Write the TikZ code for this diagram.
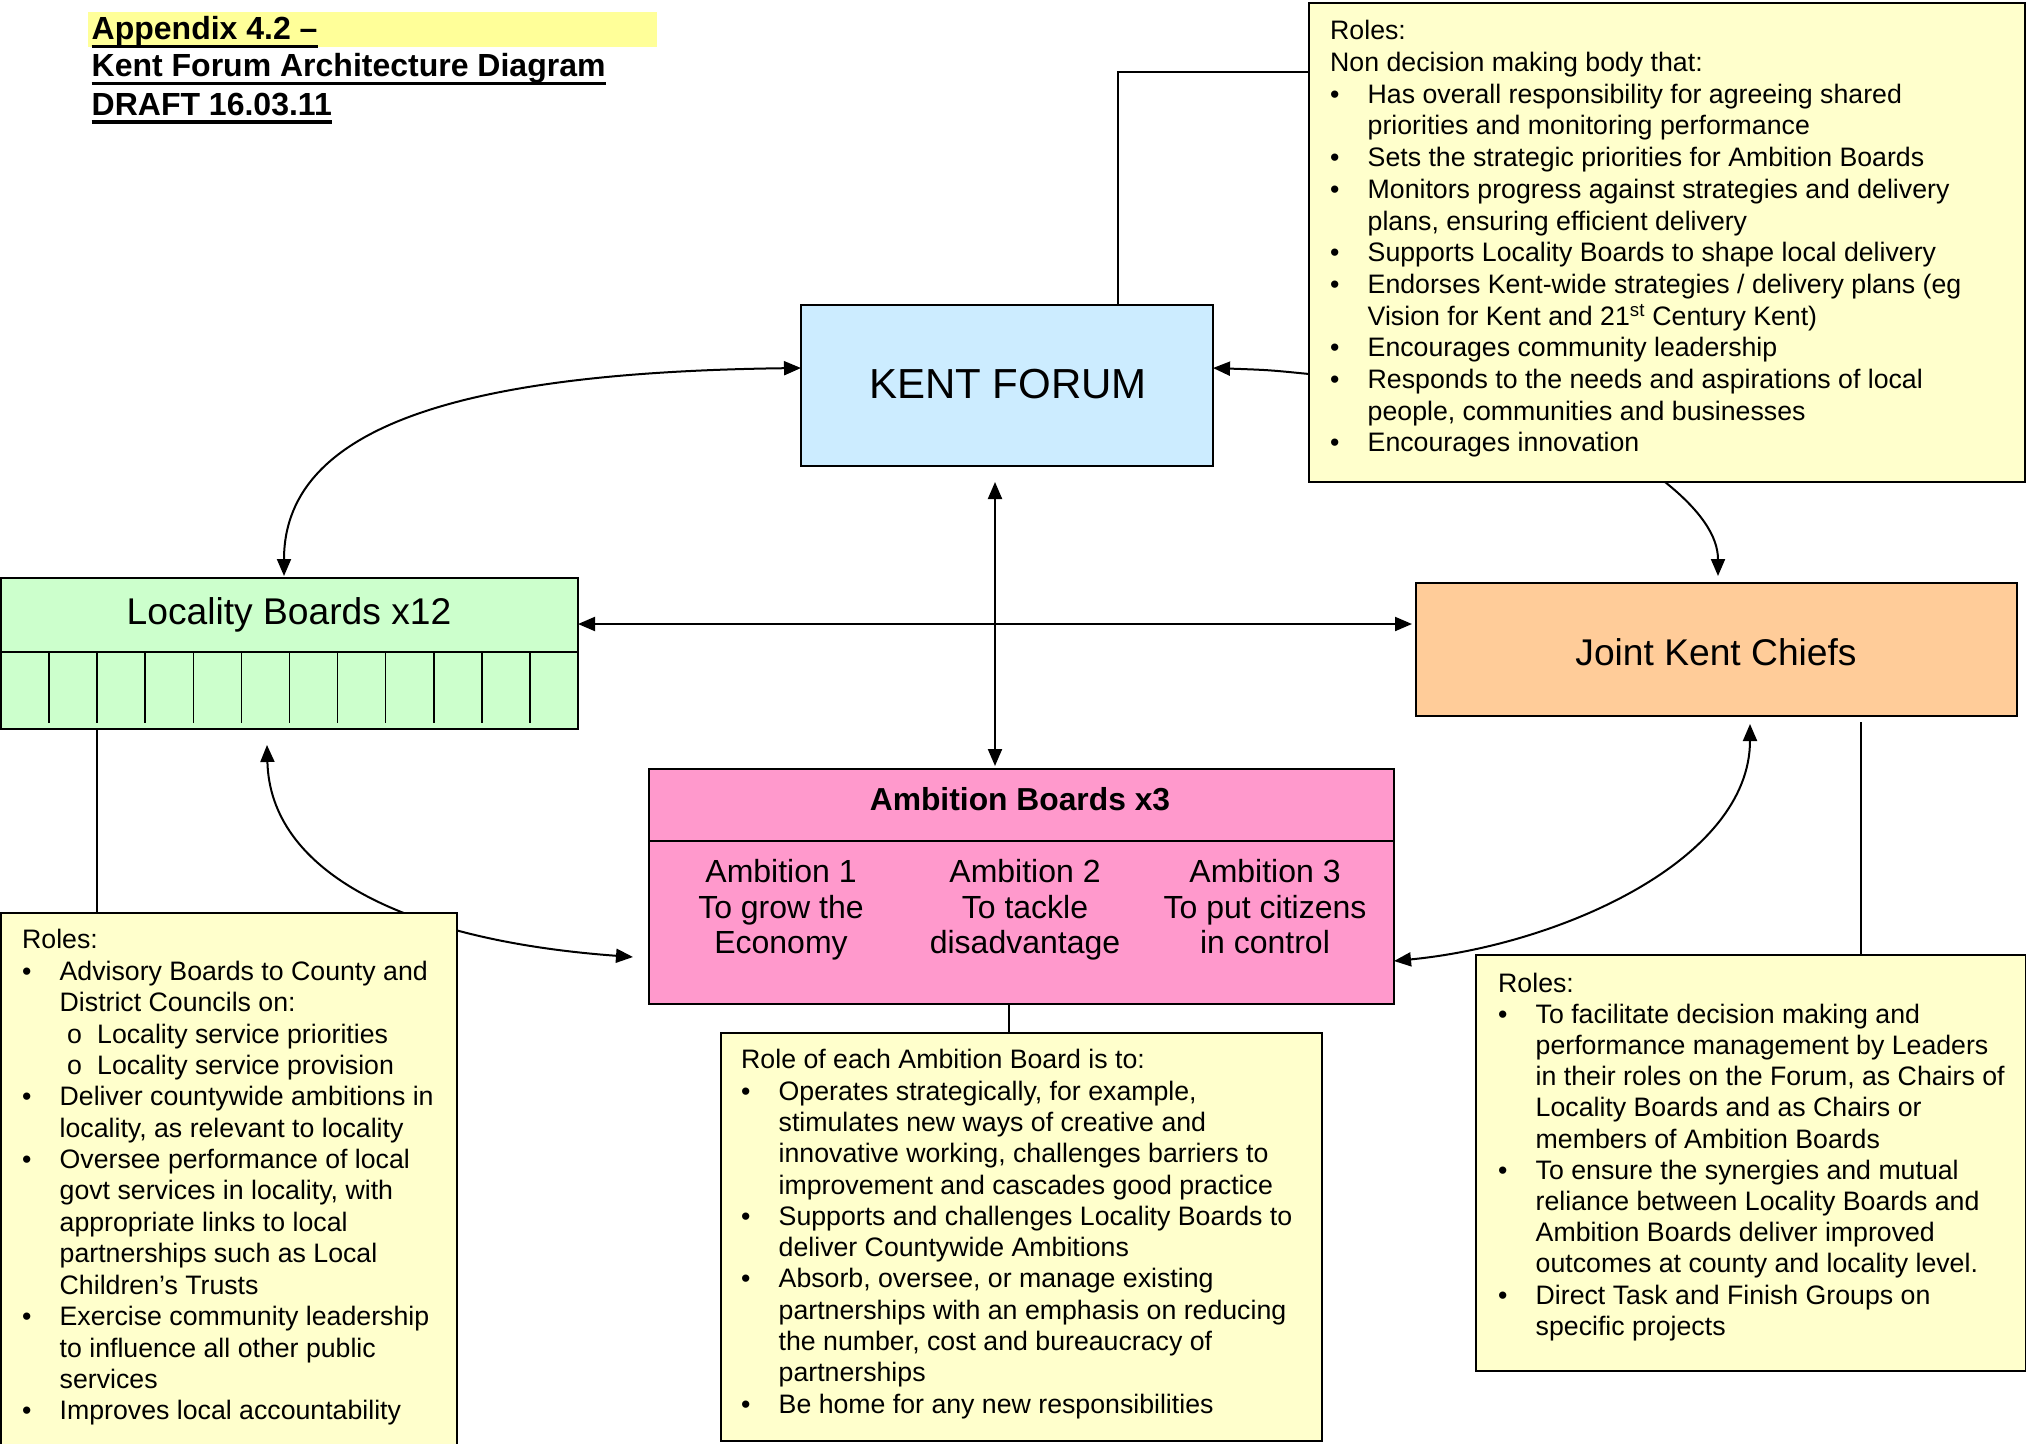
\documentclass[tikz,border=0pt]{standalone}
\usepackage{fontspec}
\setmainfont{Liberation Sans}
\usetikzlibrary{arrows.meta,calc}
\pgfdeclarelayer{bg}
\pgfsetlayers{bg,main}
\definecolor{kfblue}{HTML}{CCECFF}
\definecolor{locgreen}{HTML}{CCFFCC}
\definecolor{jkcorange}{HTML}{FFCC99}
\definecolor{ambpink}{HTML}{FF99CC}
\definecolor{roley}{HTML}{FFFFCC}
\definecolor{titlehl}{HTML}{FFFF99}
\newsavebox\myulbox
\newcommand\myul[1]{\sbox\myulbox{#1}\rlap{\rule[-8.5pt]{\wd\myulbox}{3.4pt}}\usebox\myulbox}
\newcommand\mybul{\makebox[37.5pt][l]{\textbullet}}
\newcommand\mycont{\hspace*{37.5pt}}
\newcommand\mysub{\hspace*{45pt}\makebox[30pt][l]{o}}
\begin{document}
\begin{tikzpicture}[x=1pt,y=-1pt,
 box/.style={draw=black, line width=2.2pt, rectangle, inner sep=0pt, outer sep=0pt},
 txt/.style={anchor=north west, inner sep=0pt, align=left},
 con/.style={line width=2pt},
 arr/.style={con, -{Triangle[length=17pt,width=14pt]}},
 darr/.style={con, {Triangle[length=17pt,width=14pt]}-{Triangle[length=17pt,width=14pt]}}]
\useasboundingbox (0,0) rectangle (2026,1443);

% title
\fill[titlehl] (88,12) rectangle (657,47);
\node[anchor=base west, inner sep=0pt, font=\fontsize{32}{38}\bfseries\selectfont] (t1) at (91.5,39.5) {\myul{Appendix 4.2 –}};
\node[anchor=base west, inner sep=0pt, font=\fontsize{32}{38}\bfseries\selectfont] (t2) at (91.5,76.5) {\myul{Kent Forum Architecture Diagram}};
\node[anchor=base west, inner sep=0pt, font=\fontsize{32}{38}\bfseries\selectfont] (t3) at (91.5,115) {\myul{DRAFT 16.03.11}};

% boxes
\node[box, fill=kfblue, minimum width=412pt, minimum height=161pt] (kf) at (1007,385.5) {};
\node[font=\fontsize{42}{50}\selectfont] (kft) at (1008,384) {KENT FORUM};

\node[box, fill=locgreen, minimum width=577pt, minimum height=151pt] (loc) at (289.5,653.5) {};
\node[font=\fontsize{37.2}{44}\selectfont] (loct) at (289,615) {Locality Boards x12};
\draw[line width=2pt] ($(loc.north west)+(0,74)$) -- ($(loc.north east)+(0,74)$);
\foreach \i in {1,...,11} \draw[line width=1.6pt] ($(loc.north west)+(\i*48.08,74)$) -- ++(0,71);

\node[box, fill=jkcorange, minimum width=601pt, minimum height=133pt] (jkc) at (1716.5,649.5) {};
\node[font=\fontsize{37.2}{44}\selectfont] (jkct) at (1716,652) {Joint Kent Chiefs};

\node[box, fill=ambpink, minimum width=745pt, minimum height=235pt] (amb) at (1021.5,886.5) {};
\draw[line width=2pt] ($(amb.north west)+(0,72)$) -- ($(amb.north east)+(0,72)$);
\node[font=\fontsize{31.8}{36}\bfseries\selectfont] (abt) at (1020,799.5) {Ambition Boards x3};
\node[font=\fontsize{32}{35.5}\selectfont, align=center] (a1) at (781,911) {\strut Ambition 1\\To grow the\\Economy\strut};
\node[font=\fontsize{32}{35.5}\selectfont, align=center] (a2) at (1025,911) {\strut Ambition 2\\To tackle\\disadvantage\strut};
\node[font=\fontsize{32}{35.5}\selectfont, align=center] (a3) at (1265,911) {\strut Ambition 3\\To put citizens\\in control\strut};

% role boxes
\node[box, fill=roley, minimum width=716pt, minimum height=479pt] (rtr) at (1667,242.5) {};
\node[txt, font=\fontsize{26.7}{31.7}\selectfont] (rtrt) at ($(rtr.north west)+(21,14.5)$) {\strut Roles:\\
Non decision making body that:\\
\mybul Has overall responsibility for agreeing shared\\
\mycont priorities and monitoring performance\\
\mybul Sets the strategic priorities for Ambition Boards\\
\mybul Monitors progress against strategies and delivery\\
\mycont plans, ensuring efficient delivery\\
\mybul Supports Locality Boards to shape local delivery\\
\mybul Endorses Kent-wide strategies / delivery plans (eg\\
\mycont Vision for Kent and 21\textsuperscript{st} Century Kent)\\
\mybul Encourages community leadership\\
\mybul Responds to the needs and aspirations of local\\
\mycont people, communities and businesses\\
\mybul Encourages innovation};

\node[box, fill=roley, minimum width=456.5pt, minimum height=534pt] (lro) at (228.75,1180) {};
\node[txt, font=\fontsize{26.7}{31.4}\selectfont] (lrot) at ($(lro.north west)+(21.5,13.6)$) {\strut Roles:\\
\mybul Advisory Boards to County and\\
\mycont District Councils on:\\
\mysub Locality service priorities\\
\mysub Locality service provision\\
\mybul Deliver countywide ambitions in\\
\mycont locality, as relevant to locality\\
\mybul Oversee performance of local\\
\mycont govt services in locality, with\\
\mycont appropriate links to local\\
\mycont partnerships such as Local\\
\mycont Children’s Trusts\\
\mybul Exercise community leadership\\
\mycont to influence all other public\\
\mycont services\\
\mybul Improves local accountability};

\node[box, fill=roley, minimum width=601pt, minimum height=408pt] (mro) at (1021.5,1237) {};
\node[txt, font=\fontsize{26.7}{31.3}\selectfont] (mrot) at ($(mro.north west)+(20,13.7)$) {\strut Role of each Ambition Board is to:\\
\mybul Operates strategically, for example,\\
\mycont stimulates new ways of creative and\\
\mycont innovative working, challenges barriers to\\
\mycont improvement and cascades good practice\\
\mybul Supports and challenges Locality Boards to\\
\mycont deliver Countywide Ambitions\\
\mybul Absorb, oversee, or manage existing\\
\mycont partnerships with an emphasis on reducing\\
\mycont the number, cost and bureaucracy of\\
\mycont partnerships\\
\mybul Be home for any new responsibilities};

\node[box, fill=roley, minimum width=550pt, minimum height=416pt] (rro) at (1751,1163) {};
\node[txt, font=\fontsize{26.7}{31.2}\selectfont] (rrot) at ($(rro.north west)+(22,15)$) {\strut Roles:\\
\mybul To facilitate decision making and\\
\mycont performance management by Leaders\\
\mycont in their roles on the Forum, as Chairs of\\
\mycont Locality Boards and as Chairs or\\
\mycont members of Ambition Boards\\
\mybul To ensure the synergies and mutual\\
\mycont reliance between Locality Boards and\\
\mycont Ambition Boards deliver improved\\
\mycont outcomes at county and locality level.\\
\mybul Direct Task and Finish Groups on\\
\mycont specific projects};

% connectors
\begin{pgfonlayer}{bg}
\draw[darr] ($(kf.north west)+(0,63)$) .. controls +(-321,4) and +(0,-156) .. ($(loc.north west)+(283,-2)$);
\draw[darr] ($(loc.south west)+(266,16)$) .. controls +(3,125) and +(-233,-17) .. ($(amb.north west)+(-16,188)$);
\draw[darr] ($(amb.north east)+(0,192)$) .. controls +(166,-16) and +(0,136) .. ($(jkc.south west)+(334,8)$);
\draw[darr] ($(kf.south west)+(194,16)$) -- ($(amb.north west)+(346,-3)$);
\draw[darr] ($(loc.north east)+(0,46)$) -- ($(jkc.north west)+(-4,41)$);
\draw[con] ($(kf.north west)+(317,0)$) |- ($(rtr.north west)+(0,69)$);
\draw[arr] ($(rtr.north west)+(0,371)$) .. controls +(-40,-4) .. ($(kf.north east)+(0,63)$);
\draw[arr] ($(rtr.south west)+(356,0)$) .. controls +(35,28) and +(0,-40) .. ($(jkc.north west)+(302,-7)$);
\draw[con] ($(amb.south west)+(360,0)$) -- ($(mro.north west)+(288,0)$);
\draw[con] ($(loc.south west)+(96,0)$) -- ($(lro.north west)+(96.5,0)$);
\draw[con] ($(jkc.south west)+(445,6)$) -- ($(rro.north west)+(385,0)$);
\end{pgfonlayer}
\end{tikzpicture}
\end{document}
